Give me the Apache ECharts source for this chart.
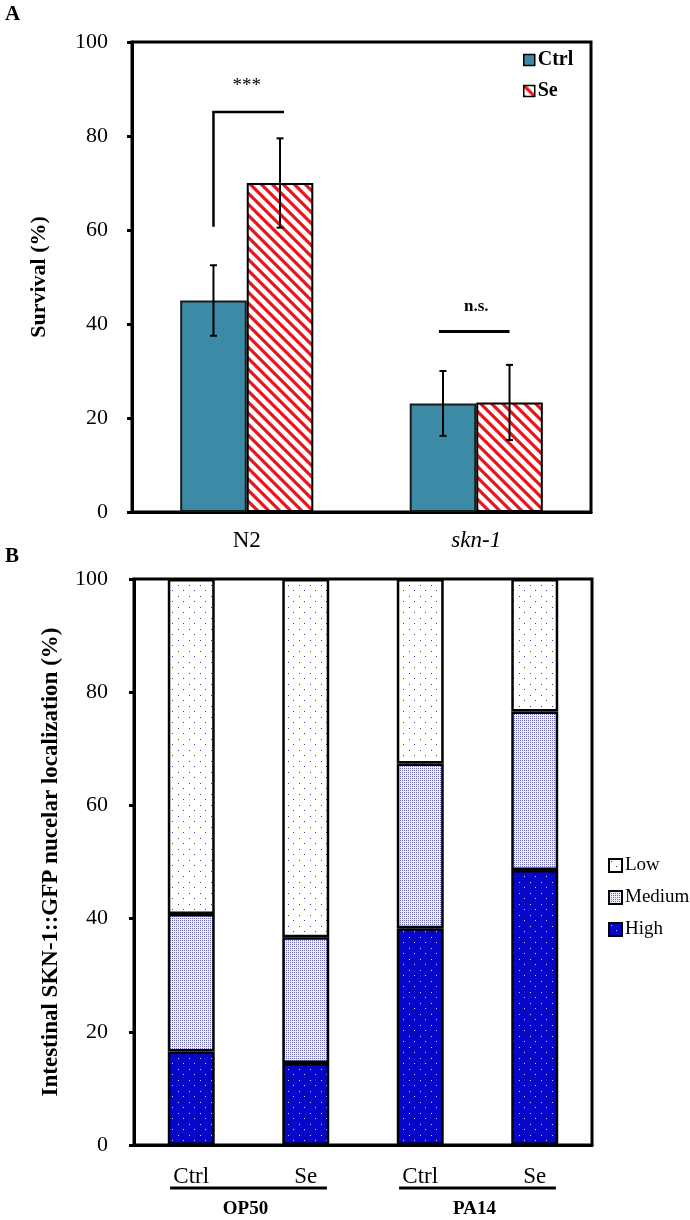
<!DOCTYPE html>
<html>
<head>
<meta charset="utf-8">
<script src="https://cdn.jsdelivr.net/npm/echarts@6/dist/echarts.min.js"></script>
<style>
html,body{margin:0;padding:0;background:#fff;}
#chart{width:690px;height:1220px;}
</style>
</head>
<body>
<div id="chart"></div>
<script>
// ---------- Panel A data ----------
const strainsA = ['N2', 'skn-1'];
const ctrlSurvival = [45.0, 23.1];
const ctrlError = [7.5, 6.9];
const seSurvival = [70.0, 23.3];
const seError = [9.5, 8.0];
const yTicksA = [0, 20, 40, 60, 80, 100];
// significance: N2 bracket (bottom, top, label height), skn-1 line (line height, label height)
const sigN2 = [60.7, 85.1, 91.0];
const sigSkn = [38.4, 43.7];
const sigLabels = ['***', 'n.s.'];

// ---------- Panel B data ----------
const categoriesB = ['OP50-Ctrl', 'OP50-Se', 'PA14-Ctrl', 'PA14-Se'];
const tickLabelsB = ['Ctrl', 'Se', 'Ctrl', 'Se'];
const bacteria = ['OP50', 'PA14'];
const highPct = [16.5, 14.5, 38.3, 48.6];
const mediumPct = [24.3, 22.2, 29.1, 28.0];
const lowPct = [59.2, 63.3, 32.6, 23.4];

const FONT = "'Times New Roman', 'Liberation Serif', serif";
const BAR_FRAC_A = 0.29;
const BAR_FRAC_B = 0.41;

function pattern(w, h, draw) {
  const c = document.createElement('canvas');
  c.width = w; c.height = h;
  const ctx = c.getContext('2d');
  draw(ctx);
  return { image: c, repeat: 'repeat' };
}
const stripes = pattern(11, 11, ctx => {
  ctx.fillStyle = '#ffffff'; ctx.fillRect(0, 0, 11, 11);
  ctx.strokeStyle = '#e8151c'; ctx.lineWidth = 3.2;
  ctx.beginPath();
  ctx.moveTo(-2, -2); ctx.lineTo(13, 13);
  ctx.moveTo(9, -2); ctx.lineTo(13, 2);
  ctx.moveTo(-2, 9); ctx.lineTo(2, 13);
  ctx.stroke();
});
const lowPattern = pattern(11, 11, ctx => {
  ctx.fillStyle = '#ffffff'; ctx.fillRect(0, 0, 11, 11);
  ctx.fillStyle = '#3a3aa8';
  ctx.fillRect(2, 2, 1, 1); ctx.fillRect(7, 7, 1, 1);
});
const mediumPattern = pattern(2, 2, ctx => {
  ctx.fillStyle = '#eceef8'; ctx.fillRect(0, 0, 2, 2);
  ctx.fillStyle = '#6a6ab6'; ctx.fillRect(0, 0, 1, 1);
});
const highPattern = pattern(11, 11, ctx => {
  ctx.fillStyle = '#0606c8'; ctx.fillRect(0, 0, 11, 11);
  ctx.fillStyle = '#d0d0ff';
  ctx.fillRect(2, 2, 1, 1); ctx.fillRect(7, 7, 1, 1);
});

function errorSeries(means, errs, sign) {
  return {
    type: 'custom', xAxisIndex: 0, yAxisIndex: 0, z: 5, silent: true,
    data: means.map((m, i) => [i, m - errs[i], m + errs[i]]),
    renderItem(params, api) {
      const band = api.size([1, 0])[0];
      const off = sign * band * BAR_FRAC_A / 2;
      const lo = api.coord([api.value(0), api.value(1)]);
      const hi = api.coord([api.value(0), api.value(2)]);
      const x = lo[0] + off, c = 3.5;
      const st = { stroke: '#000', lineWidth: 2 };
      return { type: 'group', children: [
        { type: 'line', shape: { x1: x, y1: lo[1], x2: x, y2: hi[1] }, style: st },
        { type: 'line', shape: { x1: x - c, y1: lo[1], x2: x + c, y2: lo[1] }, style: st },
        { type: 'line', shape: { x1: x - c, y1: hi[1], x2: x + c, y2: hi[1] }, style: st }
      ]};
    }
  };
}

const axisLineStyle = { show: true, lineStyle: { color: '#000', width: 3 } };

const option = {
  animation: false,
  backgroundColor: '#fff',
  textStyle: { fontFamily: FONT, color: '#000' },
  graphic: [
    { type: 'text', left: 5, top: 4, style: { text: 'A', font: 'bold 21px ' + FONT, fill: '#000' } },
    { type: 'text', left: 5, top: 546, style: { text: 'B', font: 'bold 21px ' + FONT, fill: '#000' } }
  ],
  grid: [
    { left: 132, right: 99, top: 42, height: 470, show: true, borderColor: '#000', borderWidth: 3 },
    { left: 134, right: 98, top: 579, height: 566, show: true, borderColor: '#000', borderWidth: 3 }
  ],
  legend: [
    {
      data: ['Ctrl', 'Se'], orient: 'vertical', left: 518, top: 45, icon: 'rect',
      itemWidth: 11, itemHeight: 11, itemGap: 11,
      textStyle: { fontFamily: FONT, fontWeight: 'bold', fontSize: 20, color: '#000', padding: [0, 0, 0, -2] },
      itemStyle: { borderColor: '#000', borderWidth: 1.5 }
    },
    {
      data: ['Low', 'Medium', 'High'], orient: 'vertical', left: 603, top: 851, icon: 'rect',
      itemWidth: 13, itemHeight: 13, itemGap: 13,
      textStyle: { fontFamily: FONT, fontSize: 19, color: '#000', padding: [0, 0, 0, -2] },
      itemStyle: { borderColor: '#000', borderWidth: 2 }
    }
  ],
  xAxis: [
    {
      gridIndex: 0, type: 'category', data: strainsA,
      axisLine: axisLineStyle, axisTick: { show: false },
      axisLabel: {
        margin: 17, fontSize: 23, fontFamily: FONT, color: '#000',
        formatter: v => v === 'skn-1' ? '{i|' + v + '}' : v,
        rich: { i: { fontStyle: 'italic', fontSize: 23, fontFamily: FONT, color: '#000' } }
      }
    },
    {
      gridIndex: 1, type: 'category', data: categoriesB,
      axisLine: axisLineStyle, axisTick: { show: false },
      axisLabel: {
        margin: 20, fontSize: 23, fontFamily: FONT, color: '#000',
        formatter: (v, i) => tickLabelsB[i]
      }
    }
  ],
  yAxis: [
    {
      gridIndex: 0, type: 'value', min: yTicksA[0], max: yTicksA[yTicksA.length - 1], interval: 20,
      axisLine: axisLineStyle,
      axisTick: { show: true, length: 5, lineStyle: { color: '#000', width: 3 } },
      splitLine: { show: false },
      axisLabel: { margin: 24, fontSize: 22, fontFamily: FONT, color: '#000' },
      name: 'Survival (%)', nameLocation: 'middle', nameGap: 82, nameRotate: 90,
      nameTextStyle: { fontFamily: FONT, fontWeight: 'bold', fontSize: 22, color: '#000' }
    },
    {
      gridIndex: 1, type: 'value', min: 0, max: 100, interval: 20,
      axisLine: axisLineStyle,
      axisTick: { show: true, length: 5, lineStyle: { color: '#000', width: 3 } },
      splitLine: { show: false },
      axisLabel: { margin: 26, fontSize: 22, fontFamily: FONT, color: '#000' },
      name: 'Intestinal SKN-1::GFP nucelar localization (%)', nameLocation: 'middle', nameGap: 71, nameRotate: 90,
      nameTextStyle: { fontFamily: FONT, fontWeight: 'bold', fontSize: 23, color: '#000' }
    }
  ],
  series: [
    {
      name: 'Ctrl', type: 'bar', xAxisIndex: 0, yAxisIndex: 0,
      barWidth: (BAR_FRAC_A * 100) + '%', barGap: '0%',
      data: ctrlSurvival,
      itemStyle: { color: '#3b8ba6', borderColor: '#1a1a1a', borderWidth: 2 }
    },
    {
      name: 'Se', type: 'bar', xAxisIndex: 0, yAxisIndex: 0,
      barWidth: (BAR_FRAC_A * 100) + '%', barGap: '0%',
      data: seSurvival,
      itemStyle: { color: stripes, borderColor: '#000', borderWidth: 2 }
    },
    errorSeries(ctrlSurvival, ctrlError, -1),
    errorSeries(seSurvival, seError, 1),
    {
      type: 'custom', xAxisIndex: 0, yAxisIndex: 0, z: 6, silent: true,
      data: [[0, sigN2[0], sigN2[1], sigN2[2]]],
      renderItem(params, api) {
        const band = api.size([1, 0])[0];
        const off = band * BAR_FRAC_A / 2;
        const b = api.coord([api.value(0), api.value(1)]);
        const t = api.coord([api.value(0), api.value(2)]);
        const lab = api.coord([api.value(0), api.value(3)]);
        const st = { stroke: '#000', lineWidth: 2.5 };
        return { type: 'group', children: [
          { type: 'polyline', shape: { points: [[b[0] - off, b[1]], [t[0] - off, t[1]], [t[0] + off + 4, t[1]]] }, style: Object.assign({ fill: null }, st) },
          { type: 'text', style: { text: sigLabels[0], x: lab[0], y: lab[1] + 2, align: 'center', verticalAlign: 'middle', font: '19px ' + FONT, fill: '#000' } }
        ]};
      }
    },
    {
      type: 'custom', xAxisIndex: 0, yAxisIndex: 0, z: 6, silent: true,
      data: [[1, sigSkn[0], sigSkn[1]]],
      renderItem(params, api) {
        const band = api.size([1, 0])[0];
        const off = band * BAR_FRAC_A / 2;
        const l = api.coord([api.value(0), api.value(1)]);
        const lab = api.coord([api.value(0), api.value(2)]);
        return { type: 'group', children: [
          { type: 'line', shape: { x1: l[0] - off - 4, y1: l[1], x2: l[0] + off, y2: l[1] }, style: { stroke: '#000', lineWidth: 3 } },
          { type: 'text', style: { text: sigLabels[1], x: lab[0], y: lab[1], align: 'center', verticalAlign: 'middle', font: 'bold 17px ' + FONT, fill: '#000' } }
        ]};
      }
    },
    {
      name: 'High', type: 'bar', stack: 'b', xAxisIndex: 1, yAxisIndex: 1,
      barWidth: (BAR_FRAC_B * 100) + '%', data: highPct,
      itemStyle: { color: highPattern, borderColor: '#000', borderWidth: 2.5 }
    },
    {
      name: 'Medium', type: 'bar', stack: 'b', xAxisIndex: 1, yAxisIndex: 1,
      barWidth: (BAR_FRAC_B * 100) + '%', data: mediumPct,
      itemStyle: { color: mediumPattern, borderColor: '#000', borderWidth: 2.5 }
    },
    {
      name: 'Low', type: 'bar', stack: 'b', xAxisIndex: 1, yAxisIndex: 1,
      barWidth: (BAR_FRAC_B * 100) + '%', data: lowPct,
      itemStyle: { color: lowPattern, borderColor: '#000', borderWidth: 2.5 }
    },
    {
      type: 'custom', xAxisIndex: 1, yAxisIndex: 1, z: 6, silent: true,
      data: [[0, 1], [2, 3]],
      renderItem(params, api) {
        const band = api.size([1, 0])[0];
        const a = api.coord([api.value(0), 0]);
        const b = api.coord([api.value(1), 0]);
        const ext = band * 0.185;
        const yLine = a[1] + 43, yText = a[1] + 64;
        return { type: 'group', children: [
          { type: 'line', shape: { x1: a[0] - ext, y1: yLine, x2: b[0] + ext, y2: yLine }, style: { stroke: '#000', lineWidth: 3 } },
          { type: 'text', style: { text: bacteria[params.dataIndex], x: (a[0] + b[0]) / 2 - 3, y: yText, align: 'center', verticalAlign: 'middle', font: 'bold 19px ' + FONT, fill: '#000' } }
        ]};
      }
    }
  ]
};

const chart = echarts.init(document.getElementById('chart'), null, { renderer: 'canvas' });
chart.setOption(option);
</script>
</body>
</html>
